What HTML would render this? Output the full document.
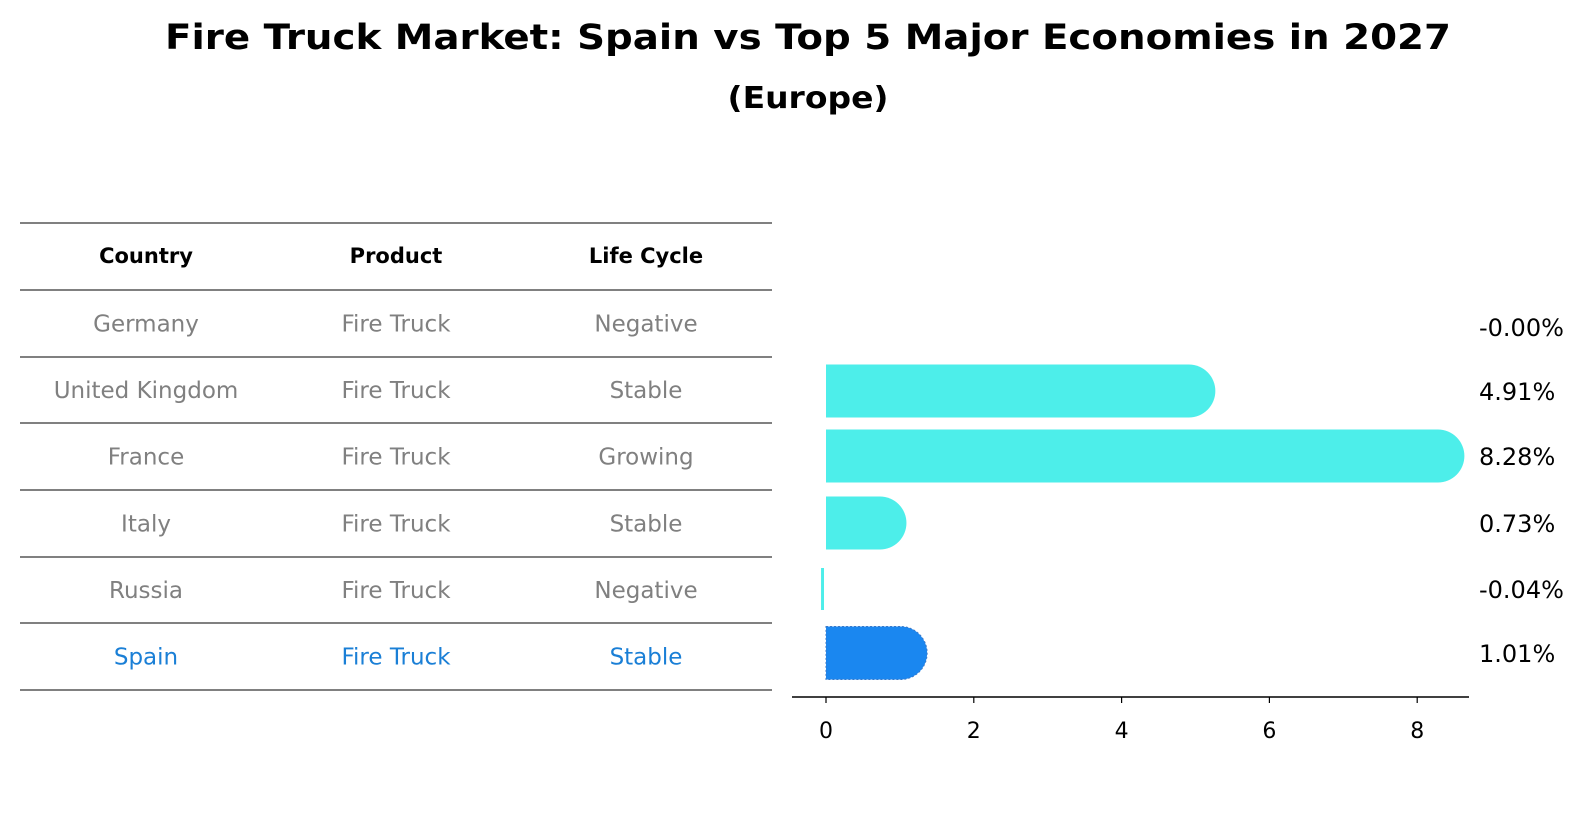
<!DOCTYPE html>
<html><head><meta charset="utf-8"><style>
body{margin:0;background:#fff;font-family:"Liberation Sans","DejaVu Sans",sans-serif;}
</style></head><body>
<svg width="1596" height="823" xmlns="http://www.w3.org/2000/svg" style="font-family:'DejaVu Sans','Liberation Sans',sans-serif">
<text x="808" y="49" text-anchor="middle" font-size="35" font-weight="bold" textLength="1286" lengthAdjust="spacingAndGlyphs">Fire Truck Market: Spain vs Top 5 Major Economies in 2027</text>
<text x="808" y="108" text-anchor="middle" font-size="30" font-weight="bold" textLength="161" lengthAdjust="spacingAndGlyphs">(Europe)</text>
<g id="table"></g>
<g id="bars"></g>
</svg>
<script>
const countries=["Germany","United Kingdom","France","Italy","Russia","Spain"];
const products=["Fire Truck","Fire Truck","Fire Truck","Fire Truck","Fire Truck","Fire Truck"];
const lifeCycles=["Negative","Stable","Growing","Stable","Negative","Stable"];
const growth=[-0.00,4.91,8.28,0.73,-0.04,1.01];
const growthLabels=["-0.00%","4.91%","8.28%","0.73%","-0.04%","1.01%"];
const xTicks=[0,2,4,6,8];
const NS="http://www.w3.org/2000/svg";
function mk(tag,attrs,parent){const e=document.createElementNS(NS,tag);for(const k in attrs)e.setAttribute(k,attrs[k]);parent.appendChild(e);return e;}
const tbl=document.getElementById('table');
const colX=[146,396,646];
const lineY=[223,290,357,423,490,557,623,690];
lineY.forEach(y=>{const l=mk('line',{x1:20,x2:772,y1:y,y2:y,stroke:'#000','stroke-width':1},tbl);

});
["Country","Product","Life Cycle"].forEach((h,i)=>{const t=mk('text',{x:colX[i],y:263,'text-anchor':'middle','font-size':21,'font-weight':'bold'},tbl);t.textContent=h;

});
countries.forEach((c,r)=>{const y=(lineY[r+1]+lineY[r+2])/2+8;const col=c==="Spain"?'#1a7fd6':'#808080';
[c,products[r],lifeCycles[r]].forEach((v,i)=>{const t=mk('text',{x:colX[i],y:y,'text-anchor':'middle','font-size':23,fill:col},tbl);t.textContent=v;

});});
const g=document.getElementById('bars');
const x0=826,ppu=73.9;const xs=v=>x0+v*ppu;
const rowY=[327,391,456,523,589,653];const bh=53,rad=26.5;
growth.forEach((v,i)=>{const spain=countries[i]==="Spain";const fill=spain?'#1a87f0':'#4deeea';const yc=rowY[i];
let el=null;
if(Math.abs(v)<0.01){el=null;}
else if(v<0){el=mk('rect',{x:xs(v)-2,y:yc-21,width:Math.max(2,xs(0)-xs(v)),height:42,fill:fill},g);}
else{const x1=xs(v);el=mk('path',{d:`M${xs(0)},${yc-bh/2} H${x1} A${rad},${rad} 0 0 1 ${x1},${yc+bh/2} H${xs(0)} Z`,fill:fill},g);
if(spain){el.setAttribute('stroke','#3a78c8');el.setAttribute('stroke-dasharray','2,2');el.setAttribute('stroke-width','1');}}
if(el){
}
const t=mk('text',{x:1479,y:yc+9,'font-size':24},g);t.textContent=growthLabels[i];

});
const ax=mk('line',{x1:792,x2:1469,y1:697,y2:697,stroke:'#000','stroke-width':1.5},g);


xTicks.forEach(v=>{const tk=mk('line',{x1:xs(v),x2:xs(v),y1:697,y2:703,stroke:'#000','stroke-width':1.2},g);


const t=mk('text',{x:xs(v),y:738,'text-anchor':'middle','font-size':22},g);t.textContent=v;

});
</script>
</body></html>
